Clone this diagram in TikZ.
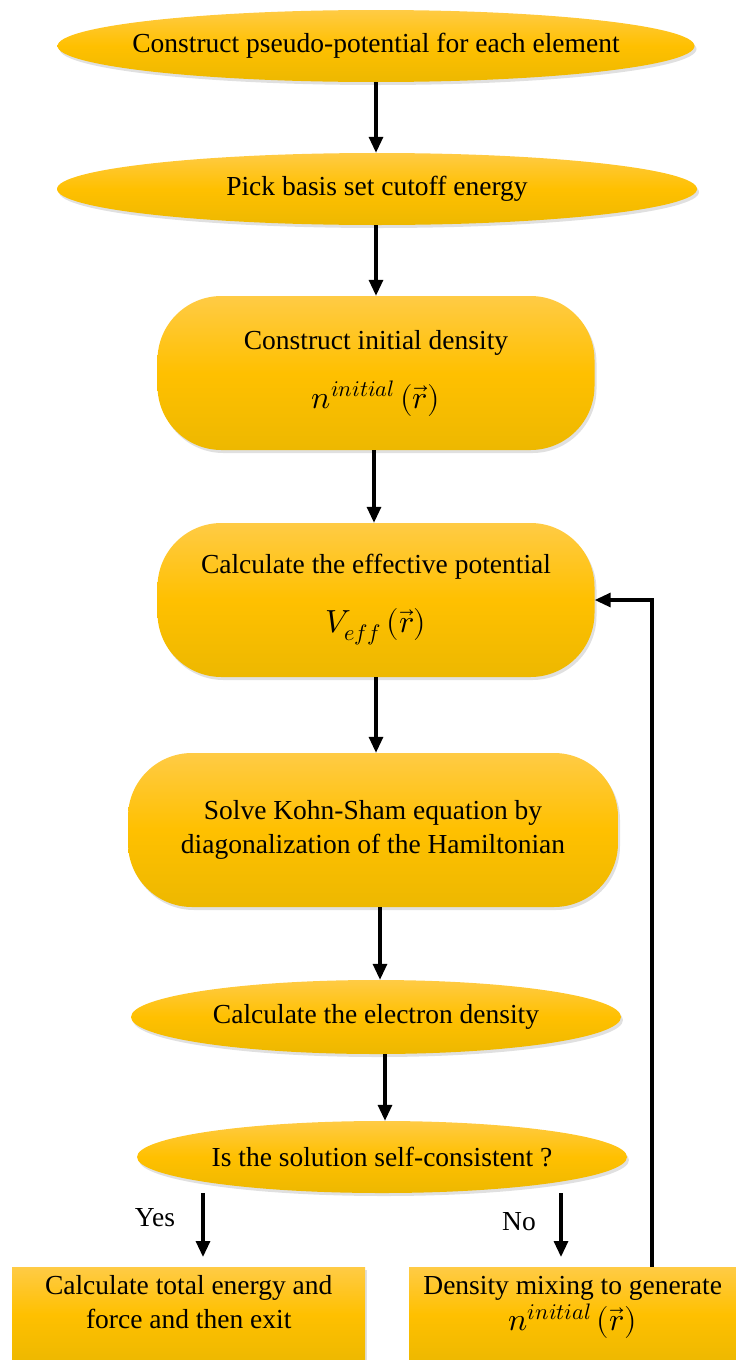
\documentclass[tikz,border=0pt]{standalone}
\usepackage{fontspec}
\usepackage{unicode-math}
\setmainfont{Liberation Serif}
\setmathfont{Latin Modern Math}
\usetikzlibrary{shapes.geometric,shadows,arrows.meta}
\definecolor{goldtop}{HTML}{FFCB45}
\definecolor{goldmid}{HTML}{FFC000}
\definecolor{goldbot}{HTML}{EDB800}
\newcommand{\mymath}[1]{{\fontsize{32}{38}\selectfont $#1$}}
\tikzset{
  base/.style={top color=goldtop, bottom color=goldbot, middle color=goldmid, draw=none,
    drop shadow={shadow xshift=2pt, shadow yshift=-3pt, fill=black!35, opacity=0.35},
    font=\fontsize{27.5}{34}\selectfont, align=center, inner sep=0pt},
  oval/.style={base, ellipse, inner xsep=-40pt},
  pill/.style={base, rectangle, rounded corners=64pt},
  boxnode/.style={base, rectangle},
  arr/.style={-{Triangle[length=16pt,width=14pt]}, line width=3.2pt},
  lab/.style={font=\fontsize{27.5}{34}\selectfont}
}
\begin{document}
\begin{tikzpicture}[x=1pt,y=-1pt]
\useasboundingbox (0,0) rectangle (736,1360);
\node[oval, minimum width=637pt, minimum height=72pt] (n1) at (376,46) {Construct pseudo-potential for each element};
\node[oval, minimum width=640pt, minimum height=72pt] (n2) at (377,189) {Pick basis set cutoff energy};
\node[pill, minimum width=437pt, minimum height=154pt] (n3) at (376,373) {Construct initial density\\[25pt] \mymath{n^{initial}\,(\vec{r})}};
\node[pill, minimum width=437pt, minimum height=154pt] (n4) at (376,600) {Calculate the effective potential\\[25pt] \mymath{V_{eff}\,(\vec{r})}};
\node[pill, minimum width=490pt, minimum height=154pt] (n5) at (373,830) {Solve Kohn-Sham equation by\\ diagonalization of the Hamiltonian};
\node[oval, minimum width=490pt, minimum height=74pt] (n6) at (376,1017) {Calculate the electron density};
\node[oval, minimum width=490pt, minimum height=72pt] (n7) at (382,1157) {Is the solution self-consistent ?};
\node[boxnode, minimum width=353pt, minimum height=95pt, anchor=north west] (b1) at (12,1267) {Calculate total energy and\\ force and then exit\\[-8pt]};
\node[boxnode, minimum width=327pt, minimum height=95pt, anchor=north west] (b2) at (409,1267) {Density mixing to generate\\[2pt] \mymath{n^{initial}\,(\vec{r})}\\[-12pt]};
\node[lab] (yes) at (155,1218) {Yes};
\node[lab] (no) at (519,1222) {No};
\draw[arr] (n1.south -| 376,0) -- (n2.north -| 376,0);
\draw[arr] (n2.south -| 376,0) -- (n3.north -| 376,0);
\draw[arr] (n3.south -| 374,0) -- (n4.north -| 374,0);
\draw[arr] (n4.south -| 376,0) -- (n5.north -| 376,0);
\draw[arr] (n5.south -| 380,0) -- (n6.north -| 380,0);
\draw[arr] (n6.south -| 385,0) -- (n7.north -| 385,0);
\coordinate (ya) at (203,1257);
\coordinate (na) at (561,1257);
\draw[arr] (n7.south -| ya) -- (ya);
\draw[arr] (n7.south -| na) -- (na);
\draw[arr] (b2.north -| 652,0) -- (652,600) -- (n4.east);
\end{tikzpicture}
\end{document}
